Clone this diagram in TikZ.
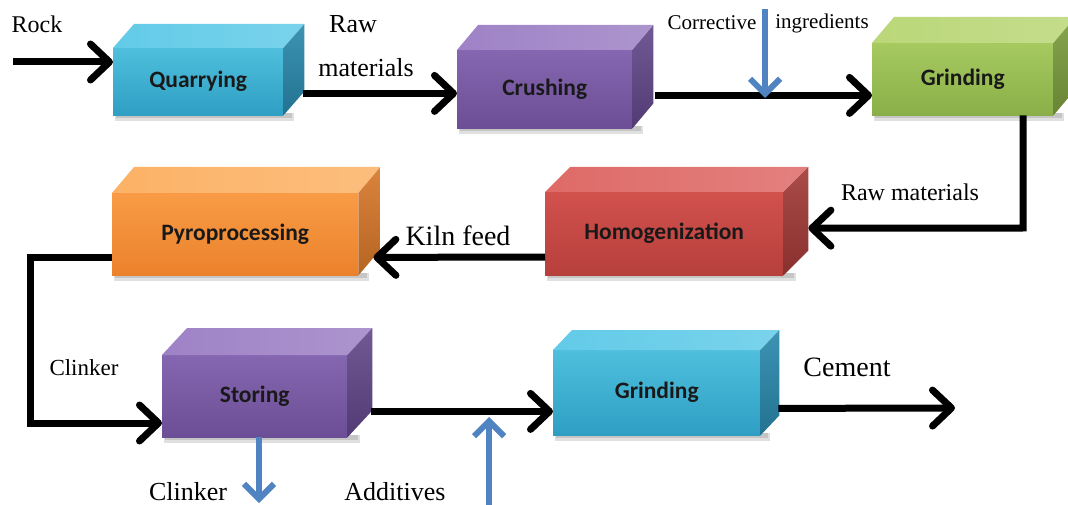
\documentclass[tikz,border=0pt]{standalone}
\usepackage{fontspec}
\setmainfont{Liberation Serif}
\newfontfamily\boxfont{Carlito}
\usetikzlibrary{arrows.meta,calc}

\definecolor{cyanT}{HTML}{62CBE8}\definecolor{cyanA}{HTML}{4FBFDD}\definecolor{cyanB}{HTML}{2E9FC3}\definecolor{cyanS}{HTML}{2887AA}
\definecolor{purT}{HTML}{9E82C6}\definecolor{purA}{HTML}{8567B1}\definecolor{purB}{HTML}{6B4E95}\definecolor{purS}{HTML}{614689}
\definecolor{grnT}{HTML}{BAD778}\definecolor{grnA}{HTML}{A6CA60}\definecolor{grnB}{HTML}{8AAF48}\definecolor{grnS}{HTML}{7A9B3D}
\definecolor{redT}{HTML}{DE6A67}\definecolor{redA}{HTML}{D1514D}\definecolor{redB}{HTML}{B73F3C}\definecolor{redS}{HTML}{A13835}
\definecolor{ornT}{HTML}{FCB266}\definecolor{ornA}{HTML}{F99B46}\definecolor{ornB}{HTML}{EB822B}\definecolor{ornS}{HTML}{D67628}
\definecolor{flowblue}{HTML}{4F83C2}

\tikzset{
  boxface/.style={inner sep=0pt, font=\boxfont\bfseries\fontsize{23.5}{25}\selectfont, text=black!90},
  lab/.style={inner sep=0pt, font=\fontsize{#1}{#1}\selectfont},
  flow/.style={line width=7pt, black, -{Straight Barb[length=19pt,width=36pt,round]}},
  bflow/.style={line width=6pt, flowblue, -{Straight Barb[length=15pt,width=30pt]}},
}

% name, x, y, w, h, dx, dy, colour prefix, text
\newcommand\cuboid[9]{%
  \fill[black, opacity=.12] (#2+2,#3+#5-2) rectangle (#2+#4+#6/2,#3+#5+6);
  \fill[black, opacity=.12] (#2+3,#3+#5-2) rectangle (#2+#4+#6/2-2,#3+#5+3);
  \node[boxface, top color=#8A, bottom color=#8B, minimum width=#4pt, minimum height=#5pt, anchor=north west] (#1) at (#2,#3) {#9};
  \shade[left color=#8T, right color=#8T!85!white] (#1.north west) -- ++(#6,-#7) -- ([shift={(#6,-#7)}]#1.north east) -- (#1.north east) -- cycle;
  \shade[top color=#8S!90!white, bottom color=#8S!85!black] (#1.north east) -- ++(#6,-#7) -- ([shift={(#6,-#7)}]#1.south east) -- (#1.south east) -- cycle;
}

\begin{document}
\begin{tikzpicture}[x=1pt,y=-1pt]
\useasboundingbox (0,0) rectangle (1068,505);

% boxes
\cuboid{quarry}{113}{48}{170}{67}{21}{24}{cyan}{Quarrying}
\cuboid{crush}{457}{50}{175}{78}{21}{25}{pur}{Crushing}
\cuboid{grindA}{872}{43}{181}{72}{22}{26}{grn}{Grinding}
\cuboid{homog}{545}{192}{238}{83}{25}{25}{red}{Homogenization}
\cuboid{pyro}{112}{193}{246}{82}{22}{26}{orn}{Pyroprocessing}
\cuboid{stor}{162}{355}{185}{82}{25}{27}{pur}{Storing}
\cuboid{grindB}{553}{350}{207}{85}{19}{20}{cyan}{Grinding}

% coordinates for free ends
\coordinate (rock) at (13,62);
\coordinate (corr) at (765,9);
\coordinate (corrtip) at (765,98);
\coordinate (out) at (955,408);
\coordinate (add) at (489,505);
\coordinate (addtip) at (489,417);
\coordinate (clk) at (259,503);

% black flows
\draw[flow] (rock) -- (rock -| quarry.west);
\draw[flow] ($(quarry.south east)+(20,-22)$) coordinate (q1) -- (q1 -| crush.west);
\draw[flow] ($(crush.south east)+(23,-33)$) coordinate (c1) -- (c1 -| grindA.west);
\draw[flow] ($(grindA.south west)+(151,0)$) coordinate (g1) -- (g1 |- 0,228) -- ($(homog.east)+(25,-5.5)$);
\draw[flow] (homog.west |- 0,257) -- ($(pyro.south east)+(15,-18)$);
\draw[flow] (pyro.west |- 0,257) -- (30,257) -- (30,423) -- (stor.west |- 0,423);
\draw[flow] ($(stor.south east)+(24,-26)$) coordinate (s1) -- (s1 -| grindB.west);
\draw[flow] ($(grindB.south east)+(18,-27)$) -- (out);

% blue flows
\draw[bflow] (corr) -- (corrtip);
\draw[bflow] (add) -- (addtip);
\draw[bflow] (stor.south -| clk) -- (clk);

% labels
\node[lab=24] at (37,24) {Rock};
\node[lab=26] at (353,24) {Raw};
\node[lab=26] at (366,68) {materials};
\node[lab=21] at (712,23) {Corrective};
\node[lab=21] at (822,23) {ingredients};
\node[lab=24] at (910,192) {Raw materials};
\node[lab=28] at (458,236) {Kiln feed};
\node[lab=23] at (84,368) {Clinker};
\node[lab=28] at (847,367) {Cement};
\node[lab=26] at (188,492) {Clinker};
\node[lab=26] at (395,492) {Additives};
\end{tikzpicture}
\end{document}
